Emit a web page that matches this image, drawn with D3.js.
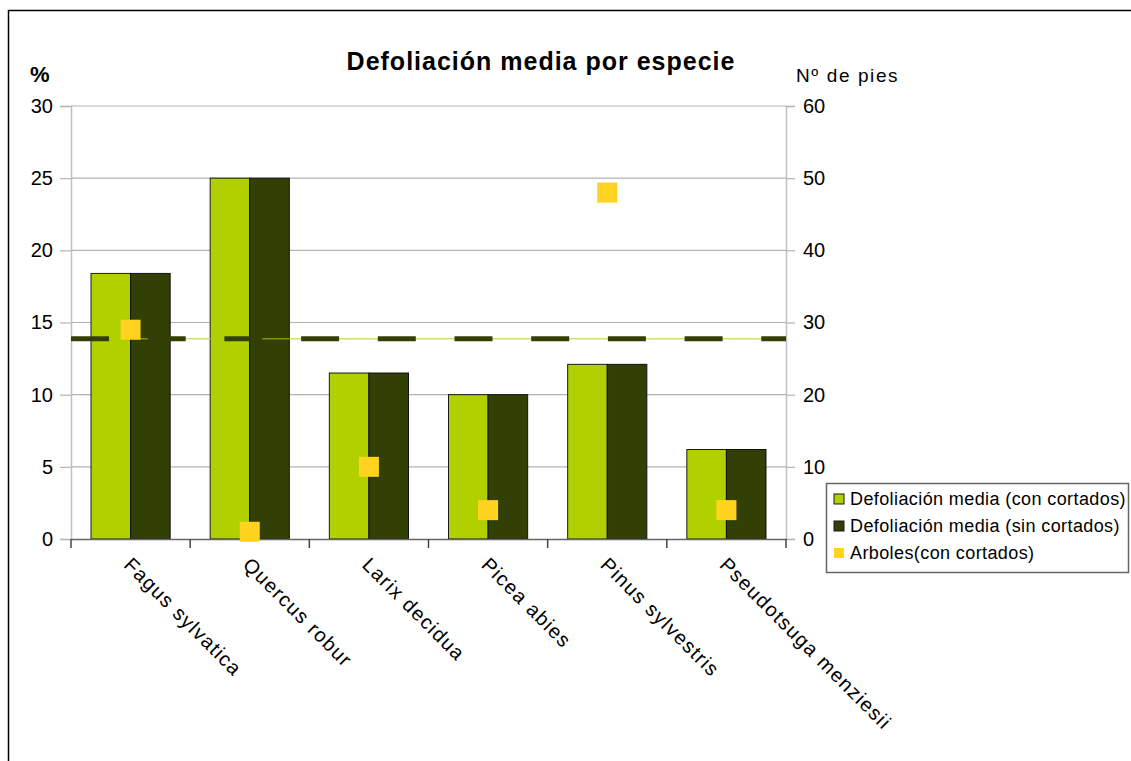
<!DOCTYPE html>
<html>
<head>
<meta charset="utf-8">
<script src="https://cdn.jsdelivr.net/npm/d3@7"></script>
<style>
  body { margin: 0; background: #fff; }
  text { font-family: "Liberation Sans", Arial, sans-serif; }
</style>
</head>
<body>
<div id="chart"></div>
<script>
// Chart data
const species = ["Fagus sylvatica", "Quercus robur", "Larix decidua", "Picea abies", "Pinus sylvestris", "Pseudotsuga menziesii"];
const defConCortados = [18.4, 25, 11.5, 10, 12.1, 6.2];
const defSinCortados = [18.4, 25, 11.5, 10, 12.1, 6.2];
const arboles = [29, 1, 10, 4, 48, 4];
const leftTicks = [0, 5, 10, 15, 20, 25, 30];
const rightTicks = [0, 10, 20, 30, 40, 50, 60];
const seriesNames = ["Defoliación media (con cortados)", "Defoliación media (sin cortados)", "Arboles(con cortados)"];

const W = 1131, H = 761;
const plot = { left: 71, right: 786, top: 106, bottom: 539 };
const colGreen = "#b0d000", colDark = "#334005", colYellow = "#ffd320";

const svg = d3.select("#chart").append("svg")
  .attr("width", W)
  .attr("height", H);

// outer frame (runs off the right and bottom)
svg.append("rect")
  .attr("x", 8.5).attr("y", 10.5)
  .attr("width", W + 20).attr("height", H + 20)
  .attr("fill", "none").attr("stroke", "#000").attr("stroke-width", 1.5);

const x = d3.scaleBand().domain(species).range([plot.left, plot.right]).paddingInner(0).paddingOuter(0);
const yL = d3.scaleLinear().domain([0, 30]).range([plot.bottom, plot.top]);
const yR = d3.scaleLinear().domain([0, 60]).range([plot.bottom, plot.top]);

// gridlines
svg.append("g")
  .selectAll("line")
  .data(leftTicks.filter(d => d > 0))
  .join("line")
  .attr("x1", plot.left).attr("x2", plot.right)
  .attr("y1", d => yL(d)).attr("y2", d => yL(d))
  .attr("stroke", "#b3b3b3").attr("stroke-width", 1.2);

// left axis
const leftAxis = svg.append("g")
  .attr("transform", `translate(${plot.left},0)`)
  .call(d3.axisLeft(yL).tickValues(leftTicks).tickSize(11).tickPadding(7));
leftAxis.select(".domain").attr("stroke", "#c0c0c0").attr("stroke-width", 1.5);
leftAxis.selectAll(".tick line").attr("stroke", "#b3b3b3").attr("stroke-width", 1.2);
leftAxis.selectAll(".tick text").attr("font-size", 20).attr("fill", "#000")
  .attr("font-family", "Liberation Sans, Arial, sans-serif");

// right axis
const rightAxis = svg.append("g")
  .attr("transform", `translate(${plot.right},0)`)
  .call(d3.axisRight(yR).tickValues(rightTicks).tickSize(9).tickPadding(8));
rightAxis.select(".domain").attr("stroke", "#c0c0c0").attr("stroke-width", 1.5);
rightAxis.selectAll(".tick line").attr("stroke", "#b3b3b3").attr("stroke-width", 1.2);
rightAxis.selectAll(".tick text").attr("font-size", 20).attr("fill", "#000")
  .attr("font-family", "Liberation Sans, Arial, sans-serif");

// bars
const barInset = 20;
const barW = (x.bandwidth() - 2 * barInset) / 2;
const bars = svg.append("g");
bars.selectAll(".con")
  .data(species)
  .join("rect")
  .attr("x", d => x(d) + barInset)
  .attr("y", (d, i) => yL(defConCortados[i]))
  .attr("width", barW)
  .attr("height", (d, i) => yL(0) - yL(defConCortados[i]))
  .attr("fill", colGreen).attr("stroke", "#1a1a1a").attr("stroke-width", 1);
bars.selectAll(".sin")
  .data(species)
  .join("rect")
  .attr("x", d => x(d) + barInset + barW)
  .attr("y", (d, i) => yL(defSinCortados[i]))
  .attr("width", barW)
  .attr("height", (d, i) => yL(0) - yL(defSinCortados[i]))
  .attr("fill", colDark).attr("stroke", "#111").attr("stroke-width", 1);

// bottom axis
const bottomAxis = svg.append("g")
  .attr("transform", `translate(0,${plot.bottom})`)
  .call(d3.axisBottom(x).tickSize(0).tickFormat(""));
bottomAxis.select(".domain").attr("stroke", "#666").attr("stroke-width", 1.5);
bottomAxis.selectAll(".tick").remove();
const bounds = species.map(d => x(d)).concat([plot.right]);
svg.append("g").selectAll("line")
  .data(bounds)
  .join("line")
  .attr("x1", d => d).attr("x2", d => d)
  .attr("y1", plot.bottom).attr("y2", plot.bottom + 9)
  .attr("stroke", "#444").attr("stroke-width", 1.5);

// category labels, rotated
svg.append("g").selectAll("text")
  .data(species)
  .join("text")
  .attr("transform", d => `translate(${x(d) + x.bandwidth() / 2 - 3},${plot.bottom + 22}) rotate(45)`)
  .attr("font-size", 20)
  .attr("letter-spacing", 1.3)
  .attr("dy", "0.35em")
  .text(d => d);

// mean lines
const meanCon = d3.mean(defConCortados);
const meanSin = d3.mean(defSinCortados);
svg.append("line")
  .attr("x1", plot.left).attr("x2", plot.right)
  .attr("y1", yL(meanCon)).attr("y2", yL(meanCon))
  .attr("stroke", colGreen).attr("stroke-opacity", 0.6).attr("stroke-width", 1.5);
svg.append("line")
  .attr("x1", plot.left).attr("x2", plot.right)
  .attr("y1", yL(meanSin)).attr("y2", yL(meanSin))
  .attr("stroke", colDark).attr("stroke-width", 5)
  .attr("stroke-dasharray", "38,38.7");

// arboles squares
const sq = 20;
svg.append("g").selectAll("rect")
  .data(species)
  .join("rect")
  .attr("x", d => x(d) + x.bandwidth() / 2 - sq / 2)
  .attr("y", (d, i) => yR(arboles[i]) - sq / 2)
  .attr("width", sq).attr("height", sq)
  .attr("fill", colYellow);

// titles
svg.append("text")
  .attr("x", 541).attr("y", 70)
  .attr("text-anchor", "middle")
  .attr("font-size", 25).attr("font-weight", "bold")
  .attr("letter-spacing", 1)
  .text("Defoliación media por especie");
svg.append("text")
  .attr("x", 30).attr("y", 82)
  .attr("font-size", 22).attr("font-weight", "bold")
  .text("%");
svg.append("text")
  .attr("x", 796).attr("y", 82)
  .attr("font-size", 19)
  .attr("letter-spacing", 1.6)
  .text("Nº de pies");

// legend
const legend = svg.append("g").attr("transform", "translate(826,483)");
legend.append("rect")
  .attr("x", 0.5).attr("y", 0.5)
  .attr("width", 302).attr("height", 89)
  .attr("fill", "#fff").attr("stroke", "#666").attr("stroke-width", 1.5);
const legendColors = [colGreen, colDark, colYellow];
seriesNames.forEach((name, i) => {
  const row = legend.append("g").attr("transform", `translate(0,${16 + i * 27})`);
  row.append("rect")
    .attr("x", 8).attr("y", -5).attr("width", 10).attr("height", 10)
    .attr("fill", legendColors[i])
    .attr("stroke", i < 2 ? "#1a1a1a" : "none").attr("stroke-width", 1);
  row.append("text")
    .attr("x", 24).attr("y", 0).attr("dy", "0.35em")
    .attr("font-size", 18)
    .attr("letter-spacing", 0.4)
    .text(name);
});
</script>
</body>
</html>
